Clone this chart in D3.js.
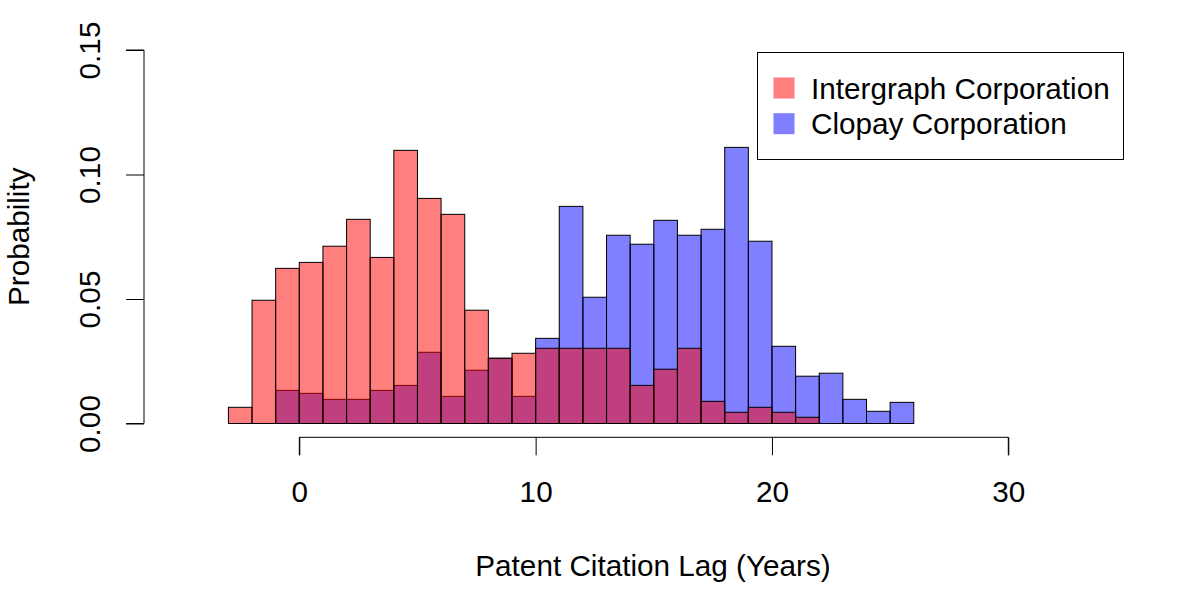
<!DOCTYPE html>
<html>
<head>
<meta charset="utf-8">
<script src="https://cdn.jsdelivr.net/npm/d3@7"></script>
<style>
  html, body { margin: 0; padding: 0; background: #fff; }
  svg { display: block; font-family: "Liberation Sans", Arial, sans-serif; }
</style>
</head>
<body>
<svg id="chart" width="1200" height="600"></svg>
<script>
// Histogram densities, one value per 1-year bin
const intergraphStart = -3;
const intergraphProb = [0.0065, 0.0495, 0.0623, 0.0647, 0.0712, 0.0820, 0.0667, 0.1097,
    0.0904, 0.0840, 0.0455, 0.0262, 0.0282, 0.0302, 0.0302, 0.0302, 0.0302, 0.0153,
    0.0218, 0.0302, 0.0089, 0.0045, 0.0065, 0.0045, 0.0025];

const clopayStart = -1;
const clopayProb = [0.0133, 0.0121, 0.0097, 0.0097, 0.0133, 0.0153, 0.0286, 0.0109,
    0.0214, 0.0262, 0.0109, 0.0342, 0.0872, 0.0507, 0.0756, 0.0720, 0.0816, 0.0756,
    0.0780, 0.1109, 0.0732, 0.0310, 0.0190, 0.0202, 0.0097, 0.0049, 0.0085];

const xTicks = [0, 10, 20, 30];
const yTicks = [0, 0.05, 0.10, 0.15];
const seriesNames = ["Intergraph Corporation", "Clopay Corporation"];
const seriesFill = ["rgba(255,0,0,0.5)", "rgba(0,0,255,0.5)"];

const svg = d3.select("#chart");
const fontSize = 29.7;

const x = d3.scaleLinear().domain([0, 30]).range([299.3, 1008.3]);
const y = d3.scaleLinear().domain([0, 0.15]).range([423.5, 50]);

function drawHist(start, values, fill) {
    const bins = values.map((v, i) => ({ x0: start + i, x1: start + i + 1, v: v }));
    svg.append("g")
        .selectAll("rect")
        .data(bins)
        .enter().append("rect")
        .attr("x", d => x(d.x0))
        .attr("y", d => y(d.v))
        .attr("width", d => x(d.x1) - x(d.x0))
        .attr("height", d => y(0) - y(d.v))
        .attr("fill", fill)
        .attr("stroke", "#000")
        .attr("stroke-width", 1);
}

// blue first, red drawn over it
drawHist(clopayStart, clopayProb, seriesFill[1]);
drawHist(intergraphStart, intergraphProb, seriesFill[0]);

// x axis, R style: detached below the plot
const xAxis = svg.append("g")
    .attr("transform", "translate(0,437.3)")
    .call(d3.axisBottom(x).tickValues(xTicks).tickSize(18).tickPadding(26).tickFormat(d3.format("d")));
xAxis.select(".domain").attr("d", `M${x(0)},18V0H${x(30)}V18`).attr("stroke-width", 1);
xAxis.selectAll("text").attr("font-size", fontSize).attr("font-family", null).attr("fill", "#000");

// y axis with rotated labels
const yAxis = svg.append("g")
    .attr("transform", "translate(144,0)")
    .call(d3.axisLeft(y).tickValues(yTicks).tickSize(18).tickFormat(d3.format(".2f")));
yAxis.select(".domain").attr("d", `M-18,${y(0.15)}H0V${y(0)}H-18`).attr("stroke-width", 1);
yAxis.selectAll(".tick text")
    .attr("font-size", fontSize)
    .attr("font-family", null)
    .attr("fill", "#000")
    .attr("x", null).attr("dy", null)
    .attr("text-anchor", "middle")
    .attr("transform", "translate(-44,0) rotate(-90)");

// axis titles
svg.append("text")
    .attr("x", 653).attr("y", 576)
    .attr("text-anchor", "middle")
    .attr("font-size", fontSize)
    .text("Patent Citation Lag (Years)");

svg.append("text")
    .attr("transform", `translate(29,${(y(0) + y(0.15)) / 2}) rotate(-90)`)
    .attr("text-anchor", "middle")
    .attr("font-size", fontSize)
    .text("Probability");

// legend
const legend = svg.append("g");
legend.append("rect")
    .attr("x", 757.5).attr("y", 52.5)
    .attr("width", 366).attr("height", 107)
    .attr("fill", "#fff").attr("stroke", "#000").attr("stroke-width", 1);

seriesNames.forEach((name, i) => {
    const cy = 88 + i * 35.7;
    legend.append("rect")
        .attr("x", 773.5).attr("y", cy - 10.5)
        .attr("width", 21).attr("height", 21)
        .attr("fill", seriesFill[i]);
    legend.append("text")
        .attr("x", 811).attr("y", cy + 10.5)
        .attr("font-size", fontSize)
        .text(name);
});
</script>
</body>
</html>
